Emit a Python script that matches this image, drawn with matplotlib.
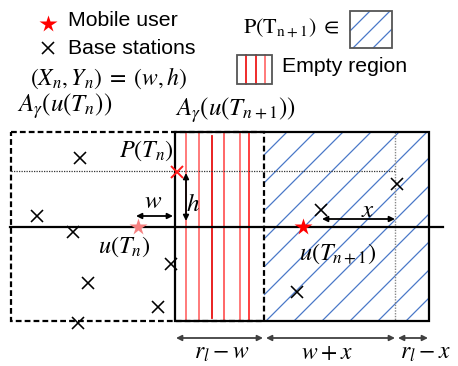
import matplotlib
matplotlib.use("Agg")
import matplotlib.pyplot as plt
from matplotlib.patches import Rectangle

plt.rcParams['mathtext.fontset'] = 'stix'
SANS = 'Liberation Sans'

# ---- scene geometry (canvas units, y grows downward) ----
region_prev = (11, 132, 264, 321)      # A_gamma(u(T_n)): left, top, right, bottom
region_next = (175, 132, 429, 321)     # A_gamma(u(T_{n+1}))
axis_y = 227
axis_x = (10, 443)
p_level_y = 171
x_level_x = 395

stations_x = [80, 37, 73, 171, 88, 158, 78, 397, 321, 297]
stations_y = [158, 216, 232, 264, 283, 307, 323, 184, 210, 292]
serving_station = (177, 172)
user_prev = (138, 227)
user_next = (303, 227)

empty_lines_x = [186, 199, 212, 224, 240, 249]
empty_lines_top = [132, 132, 136, 132, 132, 132]
empty_lines_bottom = [321, 321, 318, 321, 321, 321]
empty_lines_color = ['#ff6f6f', '#ff6f6f', '#e81010', '#ff5a5a', '#ff6f6f', '#ff3030']

hatch_spacing = 28
hatch_offset = 419

fig = plt.figure(figsize=(4.58, 3.66), dpi=100)
ax = fig.add_axes([0, 0, 1, 1])
ax.set_xlim(0, 458)
ax.set_ylim(366, 0)
ax.axis('off')

HATCH = '#4a78c8'


def hatch_box(x0, y0, x1, y1, spacing, offset, lw=0.9):
    """Diagonal '/' lines clipped to a rectangle: x + y = const."""
    c = offset
    while c - spacing > x0 + y0:
        c -= spacing
    while c < x1 + y1:
        pts = []
        for yy in (y0, y1):
            xx = c - yy
            if x0 <= xx <= x1:
                pts.append((xx, yy))
        for xx in (x0, x1):
            yy = c - xx
            if y0 <= yy <= y1:
                pts.append((xx, yy))
        if len(pts) >= 2:
            pts = sorted(set(pts))
            (xa, ya), (xb, yb) = pts[0], pts[-1]
            ax.plot([xa, xb], [ya, yb], color=HATCH, lw=lw, zorder=1,
                    solid_capstyle='butt')
        c += spacing


# hatched candidate region
hatch_box(region_prev[2], region_next[1], region_next[2], region_next[3],
          hatch_spacing, hatch_offset)

# empty region red lines
for xx, t, b, col in zip(empty_lines_x, empty_lines_top, empty_lines_bottom, empty_lines_color):
    ax.plot([xx, xx], [t, b], color=col, lw=1.3, zorder=2)

# dotted guides
ax.plot([region_prev[0], x_level_x], [p_level_y, p_level_y], color='#333333',
        lw=0.9, ls=(0, (1, 1)), zorder=2)
ax.plot([x_level_x, x_level_x], [region_next[1], region_next[3]], color='#888888',
        lw=1.0, ls=(0, (1, 1)), zorder=2)

# dashed previous region
l, t, r, b = region_prev
ax.add_patch(Rectangle((l, t), r - l, b - t, fill=False, ec='black', lw=1.6,
                       ls=(0, (2.6, 1.4)), zorder=3))
# solid next region
l, t, r, b = region_next
ax.add_patch(Rectangle((l, t), r - l, b - t, fill=False, ec='black', lw=1.6, zorder=4))

# horizontal axis
ax.plot(axis_x, [axis_y, axis_y], color='black', lw=1.6, zorder=4)

# base stations
ax.plot(stations_x, stations_y, ls='none', marker='x', ms=9, mew=1.15,
        color='black', zorder=6)
ax.plot([serving_station[0]], [serving_station[1]], ls='none', marker='x', ms=9,
        mew=1.4, color='#ff1a1a', zorder=6)

# users
ax.plot([user_prev[0]], [user_prev[1]], ls='none', marker='*', ms=13,
        color='#f58080', mec='none', zorder=7)
ax.plot([user_next[0]], [user_next[1]], ls='none', marker='*', ms=13,
        color='#ff0000', mec='none', zorder=7)


def darrow(p0, p1, color='black', lw=1.3, ms=8):
    ax.annotate('', xy=p1, xytext=p0,
                arrowprops=dict(arrowstyle='<|-|>', color=color, lw=lw,
                                mutation_scale=ms, shrinkA=0, shrinkB=0),
                zorder=8)


darrow((136, 216), (173, 216))
darrow((186, 173), (186, 221))
darrow((322, 219), (395, 219))
darrow((176, 338), (263, 338), color='#404040')
darrow((266, 338), (395, 338), color='#404040')
darrow((398, 338), (428, 338), color='#404040')


def mt(x, y, s, size=17.5, ha='center'):
    ax.text(x, y, s, fontsize=size, ha=ha, va='center', zorder=9)


mt(153, 201, r'$w$', 18)
mt(193, 204, r'$h$', 18)
mt(368, 210, r'$x$', 18)
mt(146, 151, r'$P(T_n)$')
mt(124, 247, r'$u(T_n)$')
mt(338, 254, r'$u(T_{n+1})$')
mt(65, 106, r'$A_\gamma\left(u(T_n)\right)$', 18)
mt(235, 110, r'$A_\gamma\left(u(T_{n+1})\right)$', 18)
mt(109, 78, r'$(X_n, Y_n)\;=\;(w, h)$', 17)
mt(222, 352, r'$r_l\:-\:w$', 17)
mt(327, 352, r'$w\:+\:x$', 17)
mt(426, 352, r'$r_l\:-\:x$', 17)
mt(291, 28, r'$\mathrm{P(T_{n+1})}\;\in$', 16)

# legend
ax.plot([48], [24], ls='none', marker='*', ms=13, color='#ff0000', mec='none')
ax.plot([48], [48], ls='none', marker='x', ms=9, mew=1.15, color='black')
ax.text(68, 20, 'Mobile user', fontsize=15.3, family=SANS, va='center', ha='left')
ax.text(68, 48, 'Base stations', fontsize=15.3, family=SANS, va='center', ha='left')
ax.text(282, 67, 'Empty region', fontsize=15.3, family=SANS, va='center', ha='left')

ax.add_patch(Rectangle((350, 11), 42, 37, fill=False, ec='#555555', lw=1.3, zorder=5))
hatch_box(350, 11, 392, 48, 20, 381, lw=0.9)

for xx, col in zip([246, 256, 265], ['#ee1a1a', '#ee1a1a', '#ff6f6f']):
    ax.plot([xx, xx], [55, 84], color=col, lw=1.3, zorder=4)
ax.add_patch(Rectangle((237, 55), 35, 29, fill=False, ec='#555555', lw=1.3, zorder=5))

fig.savefig('out.png', dpi=100)
